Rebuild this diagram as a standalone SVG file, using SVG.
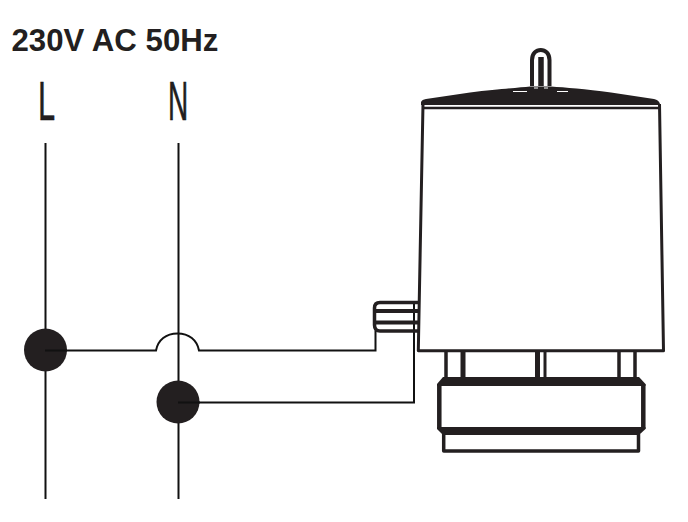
<svg xmlns="http://www.w3.org/2000/svg" width="688" height="522" viewBox="0 0 688 522">
<style>
.w{fill:none;stroke:#111;stroke-width:2}
.b{fill:none;stroke:#231f20;stroke-linejoin:round}
.dot{fill:#231f20}
.f{fill:#231f20}
.t{font-family:"Liberation Sans",Arial,sans-serif;fill:#231f20}
.g{stroke:#111;stroke-width:.6}
</style>
<rect width="688" height="522" fill="#fff"/>
<text class="t" x="11.500" y="51" font-size="31.200" font-weight="700">230V AC 50Hz</text>
<g id="label-L"><text class="t g" transform="translate(38 120) scale(.55 1)" font-size="56">L</text></g>
<g id="label-N"><text class="t g" transform="translate(168 120) scale(.5 1)" font-size="56">N</text></g>
<g id="connectors">
<path class="w" d="M45.500 143V499M178.500 143V499"/>
<path class="w" d="M45 350.500H156C158 340 166 333.500 177.500 333.500C189 333.500 197 340 199 350.500H375.500V331"/>
<path class="w" d="M178 402.500H414V303"/>
</g>
<g id="node-L"><circle class="dot" cx="45.500" cy="350" r="21.500"/><path class="w" d="M45 350.500H67"/></g>
<g id="node-N"><circle class="dot" cx="178" cy="402" r="21.500"/><path class="w" d="M178 402.500H200"/></g>
<g id="actuator">
<path class="b" stroke-width="4" d="M532 86V60C532 46.500 549.500 46.500 549.500 60V86"/>
<path class="b" stroke-width="5.500" d="M541 86V57"/>
<path class="f" d="M421 105V102Q422 99.500 426 99L470 92.500C500 89 520 87.500 530 86.500H551C565 87.500 585 89 611 92.500L654 99Q659 100 660 104V105Z"/>
<path d="M513 91.500H527M557 91.500H568M534 88H538M544 88H548" fill="none" stroke="#fff" stroke-width="1"/>
<path class="b" stroke-width="2.500" d="M423 108H659"/>
<path class="b" stroke-width="3" d="M423 104L418.300 350.700H663.500L659.500 104"/>
<path class="b" stroke-width="3.500" d="M418 302.500H380Q374.500 302.500 374.500 308V325Q374.500 331 380 331H418"/>
<path class="b" stroke-width="4" d="M375 311H418M375 322.500H418"/>
<path class="b" stroke-width="3.500" d="M446 350V379M619 350V379M635 350V379"/>
<path class="b" stroke-width="5" d="M463 350V379M537.500 350V379"/>
<path class="b" stroke-width="3" d="M545 350V379"/>
<path class="f" d="M437 384L443 377H639L645.500 384V386H437Z"/>
<path class="f" d="M437 427H645.500V429L639 435H443L437 429Z"/>
<path class="b" stroke-width="4.500" d="M439.300 384V429M643.300 384V429"/>
<path class="b" stroke-width="3.500" d="M443.700 434V451H638.500V434"/>
</g>
</svg>
